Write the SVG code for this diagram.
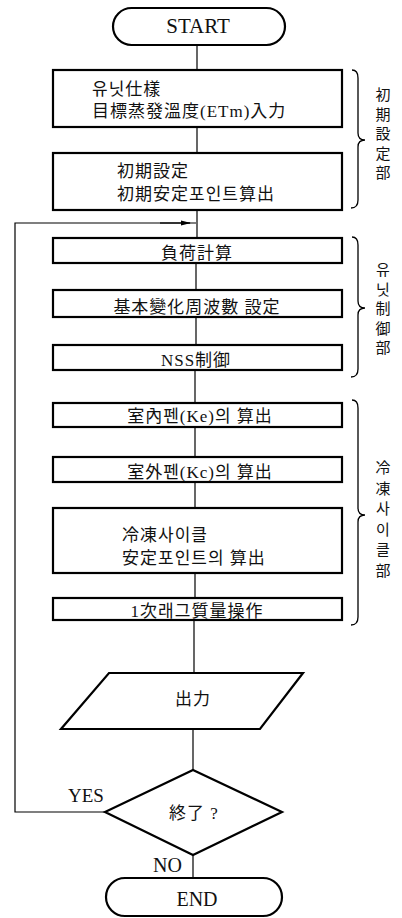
<svg xmlns="http://www.w3.org/2000/svg" width="402" height="918" viewBox="0 0 402 918">
<style>
.box{fill:#fff;stroke:#000;stroke-width:2.2}
.ln{fill:none;stroke:#000;stroke-width:1.2}
.br{fill:none;stroke:#000;stroke-width:1.3}
.t{font-family:"Liberation Serif","Noto Sans CJK KR",serif;font-size:17px;letter-spacing:1px;fill:#111}
.c{text-anchor:middle}
.lb{font-family:"Liberation Serif",serif;fill:#111}
.v{font-family:"Noto Sans CJK KR","Noto Sans CJK SC",sans-serif;font-size:15px;letter-spacing:4.5px;fill:#111;writing-mode:vertical-rl}
</style>
<defs>
<marker id="ah" markerWidth="10" markerHeight="6" refX="9" refY="3" orient="auto" markerUnits="userSpaceOnUse">
<path d="M0,0.5 L10,3 L0,5.5 Z" fill="#000"/>
</marker>
</defs>
<g id="connectors">
<line class="ln" x1="197" y1="45" x2="197" y2="70"/>
<line class="ln" x1="197" y1="127" x2="197" y2="153"/>
<line class="ln" x1="197" y1="210" x2="197" y2="238"/>
<line class="ln" x1="196" y1="263" x2="196" y2="290"/>
<line class="ln" x1="196" y1="317" x2="196" y2="345"/>
<line class="ln" x1="195" y1="370" x2="195" y2="403"/>
<line class="ln" x1="195" y1="427" x2="195" y2="457"/>
<line class="ln" x1="195" y1="482" x2="195" y2="508"/>
<line class="ln" x1="195" y1="573" x2="195" y2="598"/>
<line class="ln" x1="194" y1="620" x2="194" y2="673"/>
<line class="ln" x1="193" y1="729" x2="193" y2="770"/>
<line class="ln" x1="193" y1="855" x2="193" y2="878"/>
<polyline class="ln" points="105,812 15,812 15,223 196,223"/>
<line class="ln" x1="160" y1="223" x2="190" y2="223" marker-end="url(#ah)"/>
</g>
<g id="start">
<rect class="box" x="113" y="8" width="172" height="37" rx="18.5"/>
<text class="lb" x="198" y="33" font-size="21" text-anchor="middle">START</text>
</g>
<g id="n1">
<rect class="box" x="53" y="70" width="289" height="57"/>
<text class="t" x="92" y="95">유닛仕樣</text>
<text class="t" x="92" y="117">目標蒸發溫度(ETm)入力</text>
</g>
<g id="n2">
<rect class="box" x="53" y="153" width="289" height="57"/>
<text class="t" x="117" y="177">初期設定</text>
<text class="t" x="117" y="200">初期安定포인트算出</text>
</g>
<g id="n3">
<rect class="box" x="53" y="238" width="289" height="25"/>
<text class="t c" x="197" y="259">負荷計算</text>
</g>
<g id="n4">
<rect class="box" x="53" y="290" width="289" height="27"/>
<text class="t c" x="197" y="313">基本變化周波數 設定</text>
</g>
<g id="n5">
<rect class="box" x="53" y="345" width="289" height="25"/>
<text class="t c" x="196" y="366">NSS制御</text>
</g>
<g id="n6">
<rect class="box" x="53" y="403" width="289" height="24"/>
<text class="t c" x="200" y="422">室內펜(Ke)의 算出</text>
</g>
<g id="n7">
<rect class="box" x="53" y="457" width="289" height="25"/>
<text class="t c" x="200" y="478">室外펜(Kc)의 算出</text>
</g>
<g id="n8">
<rect class="box" x="53" y="508" width="289" height="65"/>
<text class="t" x="122" y="541">冷凍사이클</text>
<text class="t" x="122" y="564">安定포인트의 算出</text>
</g>
<g id="n9">
<rect class="box" x="53" y="598" width="289" height="22"/>
<text class="t c" x="197" y="617">1次래그質量操作</text>
</g>
<g id="output">
<polygon class="box" points="109,673 303,673 260,729 61,729"/>
<text class="t c" x="193" y="705">出力</text>
</g>
<g id="decision">
<polygon class="box" points="193,770 282,812 193,855 105,812"/>
<text class="t c" x="194" y="819">終了 ?</text>
<text class="lb" x="68" y="802" font-size="19">YES</text>
<text class="lb" x="153" y="872" font-size="20">NO</text>
</g>
<g id="end">
<rect class="box" x="106" y="878" width="176" height="38" rx="19"/>
<text class="lb" x="197" y="906" font-size="20" text-anchor="middle">END</text>
</g>
<g id="brace1">
<path class="br" d="M352,70 Q358,70 358,78 L358,133 Q358,140 365,140 Q358,140 358,147 L358,200 Q358,208 351,208"/>
<text class="v" x="383" y="87">初期設定部</text>
</g>
<g id="brace2">
<path class="br" d="M352,237 Q358,237 358,245 L358,301 Q358,308 365,308 Q358,308 358,315 L358,369 Q358,377 351,377"/>
<text class="v" x="383" y="262">유닛制御部</text>
</g>
<g id="brace3">
<path class="br" d="M352,400 Q358,400 358,408 L358,508 Q358,515 365,515 Q358,515 358,522 L358,617 Q358,625 351,625"/>
<text class="v" x="383" y="460" style="letter-spacing:5.5px">冷凍사이클部</text>
</g>
</svg>
